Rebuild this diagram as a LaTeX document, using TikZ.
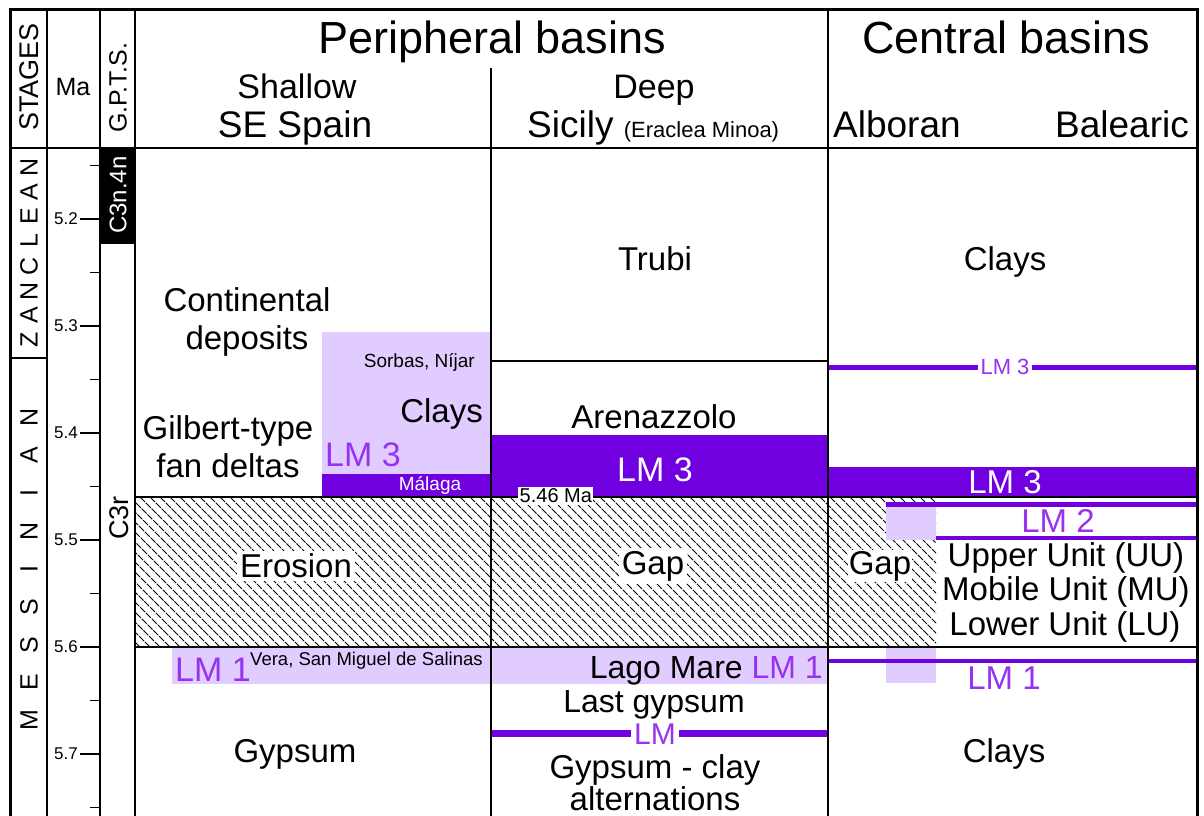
\documentclass[tikz,border=0pt]{standalone}
\usepackage{fontspec}
\setmainfont{Liberation Sans}
\newcommand\fsz[1]{\fontsize{#1}{#1}\selectfont}
\definecolor{lmdark}{RGB}{112,0,224}
\definecolor{lmlight}{RGB}{224,204,255}
\definecolor{lmtext}{RGB}{150,50,240}
\begin{document}
\begin{tikzpicture}[x=1pt,y=-1pt,
  grid/.style={line width=1.4pt, black},
  frame/.style={line width=3pt, black},
  hatch/.style={line width=0.9pt, black, dash pattern=on 7pt off 1.2pt},
  body/.style={inner sep=0pt, anchor=base, font=\fsz{33}},
  bodyl/.style={body, anchor=base west},
  bodyr/.style={body, anchor=base east},
  lmt/.style={body, text=lmtext, font=\fsz{34}},
  lmw/.style={body, text=white, font=\fsz{34}},
  gaplbl/.style={fill=white, inner sep=3pt, font=\fsz{33}},
  letter/.style={inner sep=0pt, rotate=90, font=\fsz{25}},
  ticklbl/.style={inner sep=0pt, anchor=east, font=\fsz{17}}]
\useasboundingbox (0,0) rectangle (1204,816);

% ---------- fills ----------
\fill[lmlight] (322,332) rectangle (491,474);
\fill[lmdark] (322,474) rectangle (491,497);
\fill[lmdark] (491,435) rectangle (828,497);
\fill[lmdark] (828,467) rectangle (1197,497);
\fill[lmlight] (172,648) rectangle (828,684);
\fill[black] (100,148) rectangle (135,243);

% ---------- hatching ----------
\begin{scope}
\clip (135,497) rectangle (936,647);
\foreach \i in {-170,-160,...,940} \draw[hatch] (\i,497) -- ++(160,160);
\end{scope}
\fill[lmlight] (886,507) rectangle (936,540);
\fill[lmlight] (886,648) rectangle (936,683);

% ---------- purple lines ----------
\draw[lmdark, line width=5pt] (886,504) -- (1196,504);
\draw[lmdark, line width=4pt] (936,538) -- (1196,538);
\draw[lmdark, line width=4pt] (829,661) -- (1196,661);
\draw[lmdark, line width=5pt] (829,367) -- (1196,367);
\draw[lmdark, line width=7pt] (492,733) -- (827,733);

% ---------- grid ----------
\draw[grid] (10,148) -- (1197,148);
\draw[grid] (10,358) -- (47,358);
\draw[grid] (100,243) -- (135,243);
\draw[grid] (491,361) -- (828,361);
\draw[grid] (135,497) -- (1197,497);
\draw[grid] (135,647) -- (1197,647);
\draw[grid] (47,9) -- (47,816);
\draw[grid] (100,9) -- (100,816);
\draw[line width=2.5pt] (135,9) -- (135,816);
\draw[grid] (491,68) -- (491,816);
\draw[grid] (828,9) -- (828,816);
\draw[frame] (10.5,816) -- (10.5,9.5) -- (1197,9.5) -- (1197,816);

% ---------- ticks ----------
\foreach \y/\l/\n in {219/5.2/a,326/5.3/b,433/5.4/c,540/5.5/d,647/5.6/e,754/5.7/f} {
  \draw[grid] (80,\y) -- (100,\y);
  \node[ticklbl] (tick\n) at (78,\y) {\l};
}
\foreach \y in {165.5,272.5,379.5,486.5,593.5,700.5,807.5}
  \draw[grid] (90,\y) -- (100,\y);

% ---------- left headers ----------
\node[inner sep=0pt, rotate=90, font=\fsz{27}] (stages) at (29,77) {STAGES};
\node[inner sep=0pt, font=\fsz{25}, anchor=base] (ma) at (73,95) {Ma};
\node[inner sep=0pt, rotate=90, font=\fsz{25}] (gpts) at (118,88) {G.P.T.S.};
\node[inner sep=0pt, rotate=90, font=\fsz{24}, text=white] (c3n) at (118,195) {C3n.4n};
\node[inner sep=0pt, rotate=90, font=\fsz{27}] (c3r) at (119,518) {C3r};

\foreach \ch/\y/\n in {Z/340/z1,A/315/z2,N/291/z3,C/266/z4,L/241/z5,E/216/z6,A/192/z7,N/167/z8}
  \node[letter] (\n) at (29,\y) {\ch};
\foreach \ch/\y/\n in {M/720/m1,E/682/m2,S/645/m3,S/607/m4,I/569/m5,N/531/m6,I/493/m7,A/455/m8,N/417/m9}
  \node[letter] (\n) at (29,\y) {\ch};

% ---------- column headers ----------
\node[body, font=\fsz{45}] (peri) at (492,54) {Peripheral basins};
\node[body, font=\fsz{45}] (cent) at (1006,54) {Central basins};
\node[body, font=\fsz{34}] (shal) at (297,98) {Shallow};
\node[body, font=\fsz{34}] (deep) at (654,98) {Deep};
\node[body, font=\fsz{37}] (spain) at (295,137) {SE Spain};
\node[bodyl, font=\fsz{37}] (sicily) at (527,137) {Sicily {\fsz{22}(Eraclea Minoa)}};
\node[bodyl, font=\fsz{37}] (albo) at (833,137) {Alboran};
\node[bodyr, font=\fsz{37}] (bale) at (1189,137) {Balearic};

% ---------- SE Spain ----------
\node[body] (cont1) at (247,311) {Continental};
\node[body] (cont2) at (247,349) {deposits};
\node[bodyr, font=\fsz{19}] (sorbas) at (475,367) {Sorbas, Níjar};
\node[bodyr] (clays1) at (483,422) {Clays};
\node[body] (gil1) at (228,439) {Gilbert-type};
\node[body] (gil2) at (228,477) {fan deltas};
\node[lmt, anchor=base west] (lm3a) at (325,466) {LM 3};
\node[body, text=white, font=\fsz{19}] (malaga) at (430,490) {Málaga};
\node[gaplbl] (erosion) at (296,566) {Erosion};
\node[lmt, anchor=base west] (lm1a) at (175,681) {LM 1};
\node[bodyl, font=\fsz{18.5}] (vera) at (250,665) {Vera, San Miguel de Salinas};
\node[body] (gyps1) at (295,762) {Gypsum};

% ---------- Sicily ----------
\node[body] (trubi) at (655,270) {Trubi};
\node[body] (arena) at (654,428) {Arenazzolo};
\node[lmw] (lm3b) at (655,481) {LM 3};
\node[fill=white, inner sep=1.5pt, font=\fsz{20}, anchor=west] (ma546) at (518,496) {5.46 Ma};
\node[gaplbl] (gap1) at (653,566) {Gap};
\node[bodyr, font=\fsz{32}] (lago) at (823,678) {Lago Mare \textcolor{lmtext}{LM 1}};
\node[body, font=\fsz{32}] (last) at (654,712) {Last gypsum};
\node[fill=white, inner xsep=3pt, inner ysep=0pt, text=lmtext, font=\fsz{30}] (lmline) at (655,734) {LM};
\node[body] (gc1) at (655,778) {Gypsum - clay};
\node[body] (gc2) at (655,810) {alternations};

% ---------- Central ----------
\node[body] (clays2) at (1005,270) {Clays};
\node[fill=white, inner xsep=3pt, inner ysep=0pt, text=lmtext, font=\fsz{22}] (lm3c) at (1005,367) {LM 3};
\node[lmw, font=\fsz{33}] (lm3d) at (1005,493) {LM 3};
\node[lmt, font=\fsz{33}] (lm2) at (1058,532) {LM 2};
\node[gaplbl, inner sep=1pt] (gap2) at (880,566) {Gap};
\node[body] (uu) at (1066,566) {Upper Unit (UU)};
\node[body] (mu) at (1066,600) {Mobile Unit (MU)};
\node[body] (lu) at (1065,635) {Lower Unit (LU)};
\node[lmt, font=\fsz{33}] (lm1c) at (1004,689) {LM 1};
\node[body] (clays3) at (1004,762) {Clays};
\end{tikzpicture}
\end{document}
